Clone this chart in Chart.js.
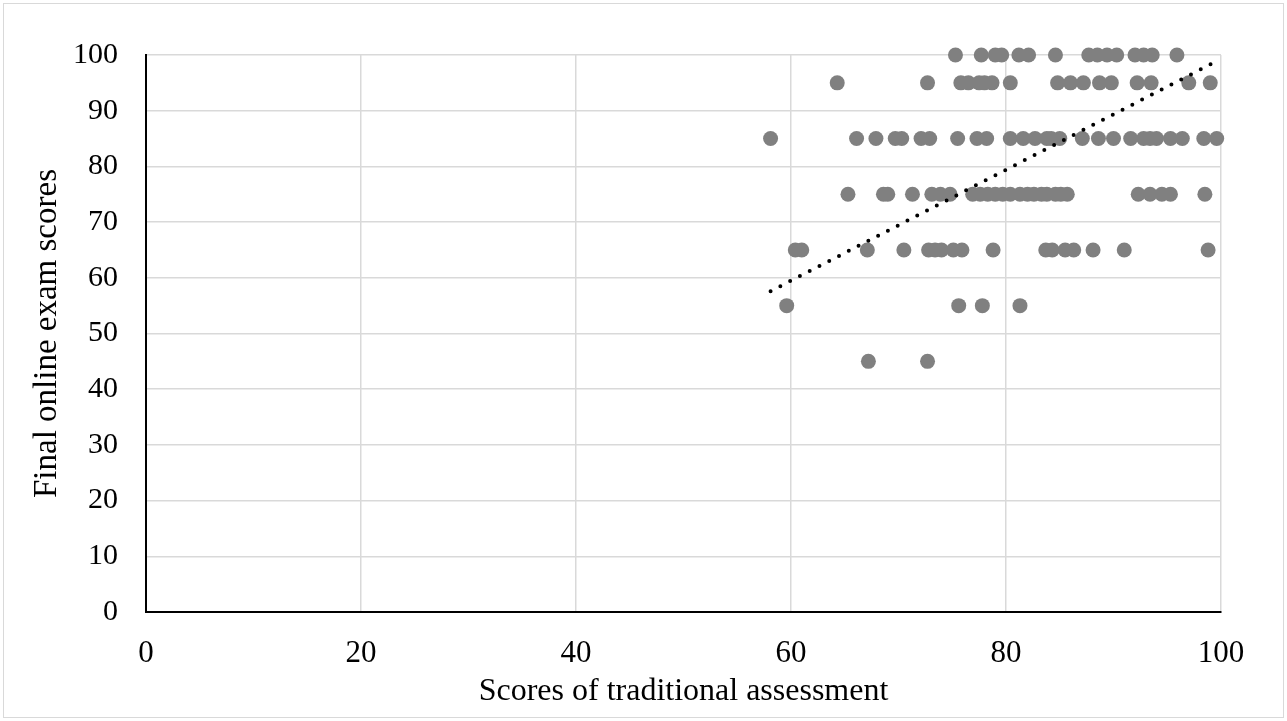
<!DOCTYPE html>
<html>
<head>
<meta charset="utf-8">
<script src="https://cdn.jsdelivr.net/npm/chart.js@4/dist/chart.umd.min.js"></script>
<style>
  html, body { margin: 0; padding: 0; background: #fff; }
  canvas { display: block; }
</style>
</head>
<body>
<canvas id="scatterChart" width="1287" height="721"></canvas>
<script>
// Scores of traditional assessment, grouped by the final online exam score they got
const xAt100 = [75.3, 77.7, 79.0, 79.6, 81.2, 82.1, 84.6, 87.7, 88.5, 89.4, 90.3, 92.0, 92.8, 93.6, 95.9];
const xAt95 = [64.3, 72.7, 75.8, 76.5, 77.5, 78.0, 78.7, 80.4, 84.8, 86.0, 87.2, 88.7, 89.8, 92.2, 93.5, 97.0, 99.0];
const xAt85 = [58.1, 66.1, 67.9, 69.7, 70.3, 72.1, 72.9, 75.5, 77.3, 78.2, 80.4, 81.6, 82.7, 83.8, 84.2, 85.0,
               87.1, 88.6, 90.0, 91.6, 92.8, 93.4, 94.0, 95.3, 96.4, 98.4, 99.6];
const xAt75 = [65.3, 68.6, 69.0, 71.3, 73.1, 73.9, 74.8, 76.9, 77.6, 78.3, 79.0, 79.7, 80.4, 81.3, 82.0, 82.6,
               83.3, 83.8, 84.6, 85.1, 85.7, 92.3, 93.4, 94.5, 95.3, 98.5];
const xAt65 = [60.4, 61.0, 67.1, 70.5, 72.8, 73.4, 74.0, 75.1, 75.9, 78.8, 83.7, 84.3, 85.5, 86.3, 88.1, 91.0, 98.8];
const xAt55 = [59.6, 75.6, 77.8, 81.3];
const xAt45 = [67.2, 72.7];

// Dotted linear trendline, end points
const trendX = [58.1, 99.7];
const trendY = [57.6, 99.0];

const xTicks = [0, 20, 40, 60, 80, 100];
const yTicks = [0, 10, 20, 30, 40, 50, 60, 70, 80, 90, 100];

const rows = [[100, xAt100], [95, xAt95], [85, xAt85], [75, xAt75], [65, xAt65], [55, xAt55], [45, xAt45]];
const points = [];
rows.forEach(([score, xs]) => xs.forEach(x => points.push({ x: x, y: score })));
const trendPoints = trendX.map((x, i) => ({ x: x, y: trendY[i] }));

const serif = "'Liberation Serif', 'Times New Roman', serif";
const gridGray = '#d9d9d9';

// white page with the thin gray frame round the chart
const framePlugin = {
    id: 'frame',
    beforeDraw(chart) {
        const ctx = chart.ctx;
        ctx.save();
        ctx.fillStyle = '#fff';
        ctx.fillRect(0, 0, chart.width, chart.height);
        ctx.strokeStyle = gridGray;
        ctx.lineWidth = 1;
        ctx.strokeRect(3.5, 3.5, chart.width - 7, chart.height - 7);
        ctx.restore();
    }
};

const ctx = document.getElementById('scatterChart').getContext('2d');
new Chart(ctx, {
    type: 'scatter',
    data: {
        datasets: [
            {
                type: 'line',
                label: 'Trend',
                data: trendPoints,
                borderColor: '#000',
                borderWidth: 4,
                borderDash: [0, 11],
                borderCapStyle: 'round',
                pointRadius: 0,
                fill: false,
                clip: false,
                order: 0
            },
            {
                label: 'Scores',
                data: points,
                backgroundColor: '#808080',
                borderWidth: 0,
                pointRadius: 7.5,
                pointHoverRadius: 7.5,
                clip: false,
                order: 1
            }
        ]
    },
    options: {
        responsive: false,
        animation: false,
        events: [],
        layout: {
            autoPadding: false,
            padding: { left: 10, right: 66, top: 55, bottom: 10 }
        },
        plugins: {
            legend: { display: false },
            tooltip: { enabled: false }
        },
        scales: {
            x: {
                type: 'linear',
                min: 0,
                max: 100,
                afterFit: (scale) => { scale.height = 99; },
                afterBuildTicks: (scale) => { scale.ticks = xTicks.map(v => ({ value: v })); },
                grid: { color: gridGray, lineWidth: 1.5, drawTicks: false },
                border: { color: '#000', width: 2 },
                ticks: { color: '#000', padding: 23, font: { family: serif, size: 31 } },
                title: {
                    display: true,
                    text: 'Scores of traditional assessment',
                    color: '#000',
                    font: { family: serif, size: 32 },
                    padding: { top: 0, bottom: 0 }
                }
            },
            y: {
                type: 'linear',
                min: 0,
                max: 100,
                afterFit: (scale) => { scale.width = 136; },
                afterBuildTicks: (scale) => { scale.ticks = yTicks.map(v => ({ value: v })); },
                grid: { color: gridGray, lineWidth: 1.5, drawTicks: false },
                border: { color: '#000', width: 2 },
                ticks: { color: '#000', padding: 28, font: { family: serif, size: 30 } },
                title: {
                    display: true,
                    text: 'Final online exam scores',
                    color: '#000',
                    font: { family: serif, size: 33 },
                    padding: { top: 18, bottom: 0 }
                }
            }
        }
    },
    plugins: [framePlugin]
});
</script>
</body>
</html>
